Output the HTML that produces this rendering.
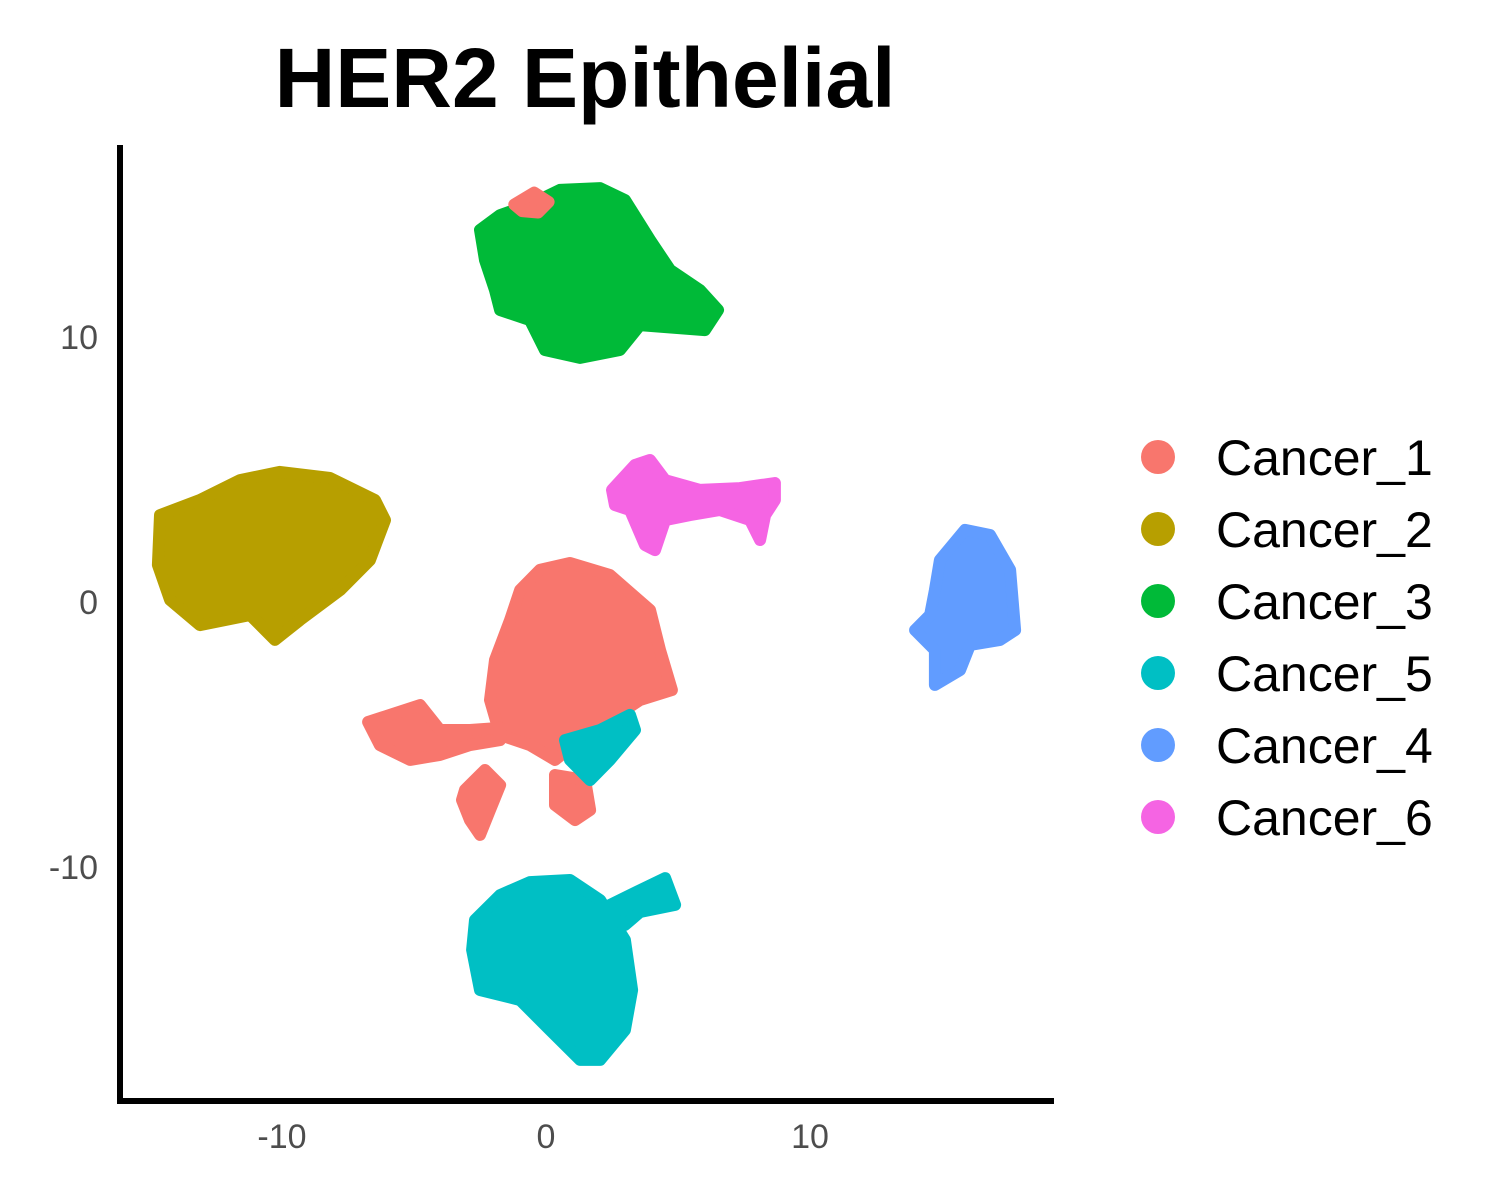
<!DOCTYPE html>
<html><head><meta charset="utf-8"><style>
html,body{margin:0;padding:0;background:#fff;}
svg{display:block;font-family:"Liberation Sans",Arial,sans-serif;}
</style></head><body>
<svg id="chart" width="1500" height="1200" viewBox="0 0 1500 1200">
<text x="585" y="107" text-anchor="middle" font-size="84" font-weight="bold" fill="#000">HER2 Epithelial</text>
<g id="clusters"></g>
<line x1="120" y1="145" x2="120" y2="1104" stroke="#000" stroke-width="6"/>
<line x1="117" y1="1101" x2="1054" y2="1101" stroke="#000" stroke-width="6"/>
<g id="xticks"></g>
<g id="yticks"></g>
<g id="legend"></g>
</svg>
<script>
const xTicks = [-10, 0, 10];
const yTicks = [10, 0, -10];
const clusterNames = ["Cancer_1","Cancer_2","Cancer_3","Cancer_5","Cancer_4","Cancer_6"];
const clusterColors = ["#F8766D","#B79F00","#00BA38","#00BFC4","#619CFF","#F564E3"];
const cancer3 = [[-2.5,14.04],[-1.74,14.6],[-0.61,15.0],[0.53,15.55],[2.05,15.62],[2.99,15.17],[3.94,13.66],[4.7,12.53],[5.83,11.77],[6.52,11.02],[6.02,10.26],[3.56,10.45],[2.8,9.51],[1.29,9.21],[-0.04,9.51],[-0.61,10.64],[-1.74,11.02],[-1.93,11.77],[-2.31,12.9]];
const cancer2 = [[-14.62,3.28],[-13.11,3.85],[-11.59,4.6],[-10.08,4.91],[-8.18,4.68],[-6.48,3.85],[-6.1,3.09],[-6.67,1.58],[-7.8,0.45],[-9.32,-0.68],[-10.27,-1.43],[-11.21,-0.49],[-13.11,-0.87],[-14.24,0.08],[-14.7,1.4]];
const cancer1Main = [[-0.98,0.45],[-0.23,1.21],[0.91,1.47],[2.42,1.02],[3.94,-0.3],[4.32,-1.81],[4.77,-3.32],[3.56,-3.7],[2.42,-4.45],[1.29,-5.21],[0.34,-5.96],[-0.61,-5.4],[-1.74,-5.02],[-2.12,-3.7],[-1.93,-2.19],[-1.36,-0.68]];
const cancer1Arm = [[-6.74,-4.53],[-4.77,-3.89],[-4.02,-4.83],[-2.88,-4.83],[-1.74,-4.75],[-1.74,-5.21],[-2.88,-5.4],[-4.02,-5.77],[-5.15,-5.96],[-6.29,-5.4]];
const cancer1Low1 = [[-3.07,-7.09],[-2.31,-6.34],[-1.74,-6.91],[-2.12,-7.85],[-2.5,-8.79],[-2.88,-8.23],[-3.18,-7.47]];
const cancer1Low2 = [[0.34,-6.53],[1.48,-6.72],[1.67,-7.85],[1.1,-8.23],[0.34,-7.66]];
const cancer1Top = [[-1.2,15.0],[-0.45,15.45],[0.1,15.1],[-0.3,14.7],[-0.9,14.75]];
const cancer5Main = [[-2.69,-12.0],[-1.74,-11.06],[-0.61,-10.57],[0.91,-10.49],[2.05,-11.25],[2.99,-12.75],[3.26,-14.64],[2.99,-16.15],[2.05,-17.28],[1.29,-17.28],[0.15,-16.15],[-0.98,-15.02],[-2.5,-14.64],[-2.8,-13.13]];
const cancer5Arm = [[2.05,-11.62],[3.18,-11.06],[4.51,-10.42],[4.89,-11.43],[3.56,-11.7],[2.99,-12.19]];
const cancer5Mid = [[0.72,-5.21],[2.05,-4.83],[3.18,-4.26],[3.37,-4.83],[2.42,-5.96],[1.67,-6.72],[0.91,-5.96]];
const cancer4 = [[14.92,1.58],[15.87,2.72],[16.82,2.53],[17.58,1.21],[17.77,-1.06],[17.2,-1.43],[16.06,-1.62],[15.68,-2.57],[14.73,-3.13],[14.73,-1.81],[13.98,-1.06],[14.55,-0.49],[14.73,0.45]];
const cancer6 = [[2.5,4.23],[3.37,5.17],[3.94,5.36],[4.51,4.6],[5.83,4.23],[7.35,4.3],[8.67,4.49],[8.67,3.85],[8.3,3.28],[8.11,2.34],[7.73,3.09],[6.59,3.47],[5.45,3.28],[4.51,3.09],[4.13,1.96],[3.75,2.15],[3.18,3.47],[2.61,3.66]];
const shapes = [[1,cancer2],[2,cancer3],[0,cancer1Top],[4,cancer4],[5,cancer6],[0,cancer1Main],[0,cancer1Arm],[0,cancer1Low1],[0,cancer1Low2],[3,cancer5Mid],[3,cancer5Main],[3,cancer5Arm]];

const NS="http://www.w3.org/2000/svg";
function sx(v){return 546+v*26.4;}
function sy(v){return 602-v*26.5;}
const cg=document.getElementById('clusters');
shapes.forEach(function(s,i){
  const p=document.createElementNS(NS,'path');
  const d=s[1].map(function(pt,j){return (j?'L':'M')+sx(pt[0]).toFixed(1)+','+sy(pt[1]).toFixed(1);}).join('')+'Z';
  p.setAttribute('d',d);
  p.setAttribute('fill',clusterColors[s[0]]);
  p.setAttribute('stroke',clusterColors[s[0]]);
  p.setAttribute('stroke-width','12');
  p.setAttribute('stroke-linejoin','round');
  
  
  cg.appendChild(p);
});
const xg=document.getElementById('xticks');
xTicks.forEach(function(t){
  const e=document.createElementNS(NS,'text');
  e.setAttribute('x',sx(t));e.setAttribute('y',1148);
  e.setAttribute('text-anchor','middle');e.setAttribute('font-size','34');e.setAttribute('fill','#4d4d4d');
  e.textContent=t;
  
  
  xg.appendChild(e);
});
const yg=document.getElementById('yticks');
yTicks.forEach(function(t){
  const e=document.createElementNS(NS,'text');
  e.setAttribute('x',98);e.setAttribute('y',sy(t)+12);
  e.setAttribute('text-anchor','end');e.setAttribute('font-size','34');e.setAttribute('fill','#4d4d4d');
  e.textContent=t;
  
  
  yg.appendChild(e);
});
const lg=document.getElementById('legend');
clusterNames.forEach(function(n,i){
  const y=457+i*72;
  const c=document.createElementNS(NS,'circle');
  c.setAttribute('cx',1158);c.setAttribute('cy',y);c.setAttribute('r',17);c.setAttribute('fill',clusterColors[i]);
  
  
  lg.appendChild(c);
  const t=document.createElementNS(NS,'text');
  t.setAttribute('x',1216);t.setAttribute('y',y+18);t.setAttribute('font-size','50');t.setAttribute('fill','#000');
  t.textContent=n;
  
  
  lg.appendChild(t);
});
</script>
</body></html>
